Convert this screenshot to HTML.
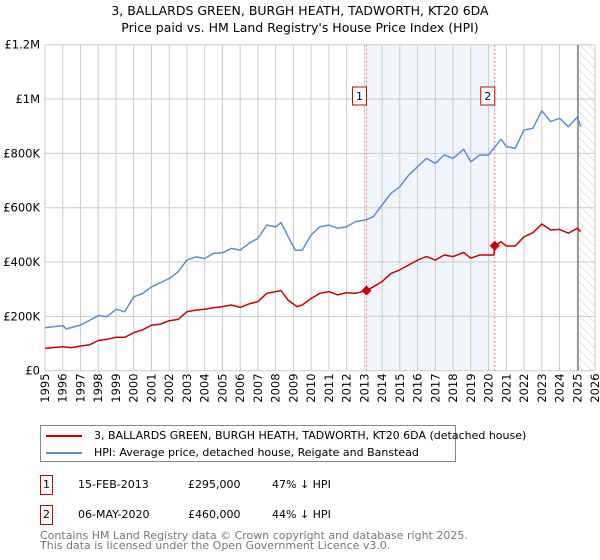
<!DOCTYPE html>
<html><head><meta charset="utf-8"><style>
body{margin:0;background:#fff;font-family:"Liberation Sans","DejaVu Sans",sans-serif;}
#wrap{position:relative;width:600px;height:560px;overflow:hidden}
.t{position:absolute;font-family:"DejaVu Sans","Liberation Sans",sans-serif;color:#000}
</style></head><body>
<div id="wrap">
<div class="t" style="left:0;width:600px;top:2px;text-align:center;font-size:12.5px;line-height:17px">3, BALLARDS GREEN, BURGH HEATH, TADWORTH, KT20 6DA<br>Price paid vs. HM Land Registry's House Price Index (HPI)</div>
<svg id="chart" width="600" height="420" style="position:absolute;left:0;top:0"></svg>
<div style="position:absolute;left:40px;top:425px;width:414px;height:35px;border:1px solid #888;font-family:'DejaVu Sans',sans-serif;font-size:11px">
 <div style="position:absolute;left:5px;top:3px;white-space:nowrap"><span style="display:inline-block;width:36px;height:2px;background:#cc0000;vertical-align:middle;margin-right:12px"></span>3, BALLARDS GREEN, BURGH HEATH, TADWORTH, KT20 6DA (detached house)</div>
 <div style="position:absolute;left:5px;top:20px;white-space:nowrap"><span style="display:inline-block;width:36px;height:2px;background:#5b8fd4;vertical-align:middle;margin-right:12px"></span>HPI: Average price, detached house, Reigate and Banstead</div>
</div>
<div class="t" style="left:40px;top:475px;font-size:11px;width:500px;height:20px">
 <span style="position:absolute;left:0;top:0;width:11px;height:18px;border:1px solid #cc0000;text-align:center;line-height:18px">1</span>
 <span style="position:absolute;left:38px;top:3px">15-FEB-2013</span>
 <span style="position:absolute;left:148px;top:3px">£295,000</span>
 <span style="position:absolute;left:232px;top:3px">47% ↓ HPI</span>
</div>
<div class="t" style="left:40px;top:505px;font-size:11px;width:500px;height:20px">
 <span style="position:absolute;left:0;top:0;width:11px;height:18px;border:1px solid #cc0000;text-align:center;line-height:18px">2</span>
 <span style="position:absolute;left:38px;top:3px">06-MAY-2020</span>
 <span style="position:absolute;left:148px;top:3px">£460,000</span>
 <span style="position:absolute;left:232px;top:3px">44% ↓ HPI</span>
</div>
<div class="t" style="left:40px;top:531px;font-size:11px;line-height:10px;color:#777">Contains HM Land Registry data © Crown copyright and database right 2025.<br>This data is licensed under the Open Government Licence v3.0.</div>
</div>
<script>
const yTicks=[0,200,400,600,800,1000,1200];
const yTickLabels=["£0","£200K","£400K","£600K","£800K","£1M","£1.2M"];
const years=[1995,1996,1997,1998,1999,2000,2001,2002,2003,2004,2005,2006,2007,2008,2009,2010,2011,2012,2013,2014,2015,2016,2017,2018,2019,2020,2021,2022,2023,2024,2025,2026];
const hpiX=[1995,1996,1996.2,1997,1998,1998.5,1999,1999.5,2000,2000.5,2001,2002,2002.5,2003,2003.5,2004,2004.5,2005,2005.5,2006,2006.5,2007,2007.5,2008,2008.3,2008.7,2009.1,2009.5,2010,2010.5,2011,2011.5,2012,2012.5,2013.1,2013.5,2014,2014.5,2015,2015.5,2016,2016.5,2017,2017.5,2018,2018.6,2019,2019.5,2020,2020.3,2020.7,2021,2021.5,2022,2022.5,2023,2023.5,2024,2024.5,2025,2025.2];
const hpiV=[158,166,154,168,202,199,226,217,272,284,309,339,364,407,419,413,432,434,450,444,469,487,536,530,545,494,444,444,500,530,536,524,530,549,555,567,610,653,677,720,751,782,763,794,782,815,769,794,794,819,852,825,819,886,892,957,917,929,898,933,898];
const redX=[1995,1996,1996.5,1997,1997.5,1998,1998.5,1999,1999.5,2000,2000.5,2001,2001.5,2002,2002.5,2003,2003.5,2004,2004.5,2005,2005.5,2006,2006.5,2007,2007.5,2008,2008.3,2008.7,2009.2,2009.5,2010,2010.5,2011,2011.5,2012,2012.5,2013.12,2013.5,2014,2014.5,2015,2015.5,2016,2016.5,2017,2017.5,2018,2018.6,2019,2019.5,2020.3,2020.35,2020.7,2021,2021.5,2022,2022.5,2023,2023.5,2024,2024.5,2025,2025.2];
const redV=[82,88,85,91,95,111,116,123,123,140,150,168,171,184,189,217,223,226,232,236,242,233,246,254,285,291,295,260,236,242,266,285,291,279,287,285,295,309,328,358,371,389,407,420,407,426,420,435,414,426,426,460,475,459,459,493,508,540,518,520,506,524,512];
const saleX=[2013.12,2020.35];
const saleV=[295,460];
const saleLabels=["1","2"];
const X0=45,X1=595,Y0=370.7,Y1=44.7;
const xs=y=>X0+(y-1995)*(X1-X0)/31;
const ys=v=>Y0-v*(Y0-Y1)/1200;
const svg=document.getElementById('chart');const NS="http://www.w3.org/2000/svg";
function mk(t,a){const e=document.createElementNS(NS,t);for(const k in a)e.setAttribute(k,a[k]);svg.appendChild(e);return e;}
// shading
const sh=mk('rect',{x:xs(saleX[0]),y:Y1,width:xs(saleX[1])-xs(saleX[0]),height:Y0-Y1,fill:'#eef3fc',opacity:0.8});


// hatch
const defs=mk('defs',{});defs.innerHTML='<pattern id="h" width="6" height="6" patternUnits="userSpaceOnUse" patternTransform="rotate(-45)"><line x1="0" y1="0" x2="0" y2="6" stroke="#ccc" stroke-width="1"/></pattern>';
const hr=mk('rect',{x:xs(2025.1),y:Y1,width:X1-xs(2025.1),height:Y0-Y1,fill:'url(#h)'});


years.forEach(y=>{const l=mk('line',{x1:xs(y),x2:xs(y),y1:Y1,y2:Y0,stroke:'#ccc','stroke-width':1});


const t=mk('text',{x:0,y:0,transform:`translate(${xs(y)+4},${Y0+32}) rotate(-90)`,'font-size':11.5,'font-family':'DejaVu Sans,Liberation Sans,sans-serif'});t.textContent=y;

});
yTicks.forEach((v,i)=>{const l=mk('line',{x1:X0,x2:X1,y1:ys(v),y2:ys(v),stroke:'#ccc','stroke-width':1});


const t=mk('text',{x:X0-5,y:ys(v)+4,'text-anchor':'end','font-size':11.5,'font-family':'DejaVu Sans,Liberation Sans,sans-serif'});t.textContent=yTickLabels[i];

});
const nl=mk('line',{x1:xs(2025.05),x2:xs(2025.05),y1:Y1,y2:Y0,stroke:'#888','stroke-width':1.5});


saleX.forEach((sx,i)=>{const l=mk('line',{x1:xs(sx),x2:xs(sx),y1:Y1,y2:Y0,stroke:'#f08080','stroke-width':1,'stroke-dasharray':'2,2'});


const b=mk('rect',{x:xs(sx)-14,y:87,width:14,height:18,fill:'#fff',stroke:'#cc0000','stroke-width':1});


const t=mk('text',{x:xs(sx)-7,y:100,'text-anchor':'middle','font-size':11,'font-family':'DejaVu Sans,sans-serif'});t.textContent=saleLabels[i];

});
const line=(X,V,c,n)=>{const p=mk('path',{d:X.map((x,i)=>(i?'L':'M')+xs(x).toFixed(1)+','+ys(V[i]).toFixed(1)).join(''),fill:'none',stroke:c,'stroke-width':1.5,'stroke-linejoin':'round'});

};
line(hpiX,hpiV,'#5b8fd4','hpi-line');
line(redX,redV,'#cc0000','property-price-line');
saleX.forEach((sx,i)=>{const d=mk('path',{d:`M${xs(sx)},${ys(saleV[i])-5}l5,5l-5,5l-5,-5z`,fill:'#cc0000'});

});
</script>
</body></html>
